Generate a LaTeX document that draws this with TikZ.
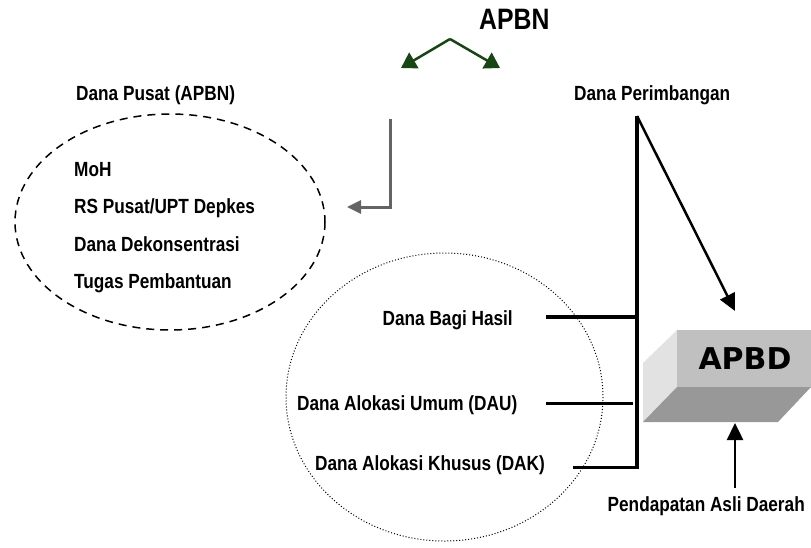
\documentclass[tikz,border=0pt]{standalone}
\usepackage{fontspec}
\setmainfont{Liberation Sans}[FakeStretch=0.84]
\newfontfamily\boxfont{DejaVu Sans}
\usetikzlibrary{arrows.meta}
\definecolor{dgreen}{RGB}{22,70,18}
\definecolor{arrgray}{RGB}{100,100,100}
\definecolor{faceL}{RGB}{226,226,226}
\definecolor{faceF}{RGB}{192,192,192}
\definecolor{faceB}{RGB}{152,152,152}
\tikzset{
  lbl/.style={font=\bfseries\fontsize{20.5}{23}\selectfont, inner sep=0pt},
  biglbl/.style={font=\bfseries\fontsize{29.5}{33}\selectfont, inner sep=0pt},
  boxlbl/.style={font=\boxfont\bfseries\fontsize{30}{34}\selectfont, inner sep=0pt},
  greenarr/.style={-{Triangle[length=15pt,width=18pt]}, draw=dgreen, fill=dgreen, line width=2.5pt},
  grayarr/.style={-{Triangle[length=14pt,width=13pt]}, draw=arrgray, line width=3pt},
  blackarr/.style={-{Triangle[length=17pt,width=16pt]}, line width=2.5pt},
  thickline/.style={line width=4.5pt},
  medline/.style={line width=3pt},
}
\begin{document}
\begin{tikzpicture}[x=1pt,y=-1pt]
\useasboundingbox (0,0) rectangle (811,547);
% ellipses
\draw[line width=1.5pt, dash pattern=on 8pt off 6pt] (170,222) ellipse [x radius=155, y radius=108];
\draw[line width=1pt, dotted] (444.5,397) ellipse [x radius=158.5, y radius=144];

% APBD box
\fill[faceL] (677,330) -- (643,363) -- (643,422) -- (677,387) -- cycle;
\fill[faceB] (677,387) -- (811,387) -- (778,422) -- (643,422) -- cycle;
\fill[faceF] (677,330) rectangle (811,387);
\node[boxlbl] (apbd) at (745,358.5) {APBD};

% texts
\node[biglbl, anchor=base west] (apbn) at (479,29) {APBN};
\node[lbl, anchor=base west] (pusat) at (76,100) {Dana Pusat (APBN)};
\node[lbl, anchor=base west] (moh) at (74,176) {MoH};
\node[lbl, anchor=base west] (rs) at (74,213) {RS Pusat/UPT Depkes};
\node[lbl, anchor=base west] (dek) at (74,251) {Dana Dekonsentrasi};
\node[lbl, anchor=base west] (tp) at (74,288) {Tugas Pembantuan};
\node[lbl, anchor=base west] (perim) at (574,100) {Dana Perimbangan};
\node[lbl, anchor=base east] (dbh) at (513,325) {Dana Bagi Hasil};
\node[lbl, anchor=base west] (dau) at (297,410) {Dana Alokasi Umum (DAU)};
\node[lbl, anchor=base west] (dak) at (315,470) {Dana Alokasi Khusus (DAK)};
\node[lbl, anchor=base east] (pad) at (805,511) {Pendapatan Asli Daerah};

% coordinates
\coordinate (apex) at (450,39);
\coordinate (gL) at (401,68);
\coordinate (gR) at (500,68);
\coordinate (gtop) at (390,119);
\coordinate (gcorner) at (390,207);
\coordinate (gtip) at (347,207);
\coordinate (vtop) at (637,116);
\coordinate (vbot) at (637,469);
\coordinate (dtip) at (735,311);
\coordinate (dbhL) at (546,317);
\coordinate (dbhR) at (637,317);
\coordinate (dauL) at (546,403);
\coordinate (dauR) at (633,403);
\coordinate (dakL) at (573,467);
\coordinate (dakR) at (637,467);
\coordinate (upbot) at (735,488);
\coordinate (uptip) at (735,423);

% connectors
\draw[greenarr] (apex) -- (gL);
\draw[greenarr] (apex) -- (gR);
\draw[grayarr] (gtop) -- (gcorner) -- (gtip);
\draw[thickline] (vtop) -- (vbot);
\draw[blackarr] (vtop) -- (dtip);
\draw[thickline] (dbhL) -- (dbhR);
\draw[medline] (dauL) -- (dauR);
\draw[medline] (dakL) -- (dakR);
\draw[blackarr] (upbot) -- (uptip);
\end{tikzpicture}
\end{document}
